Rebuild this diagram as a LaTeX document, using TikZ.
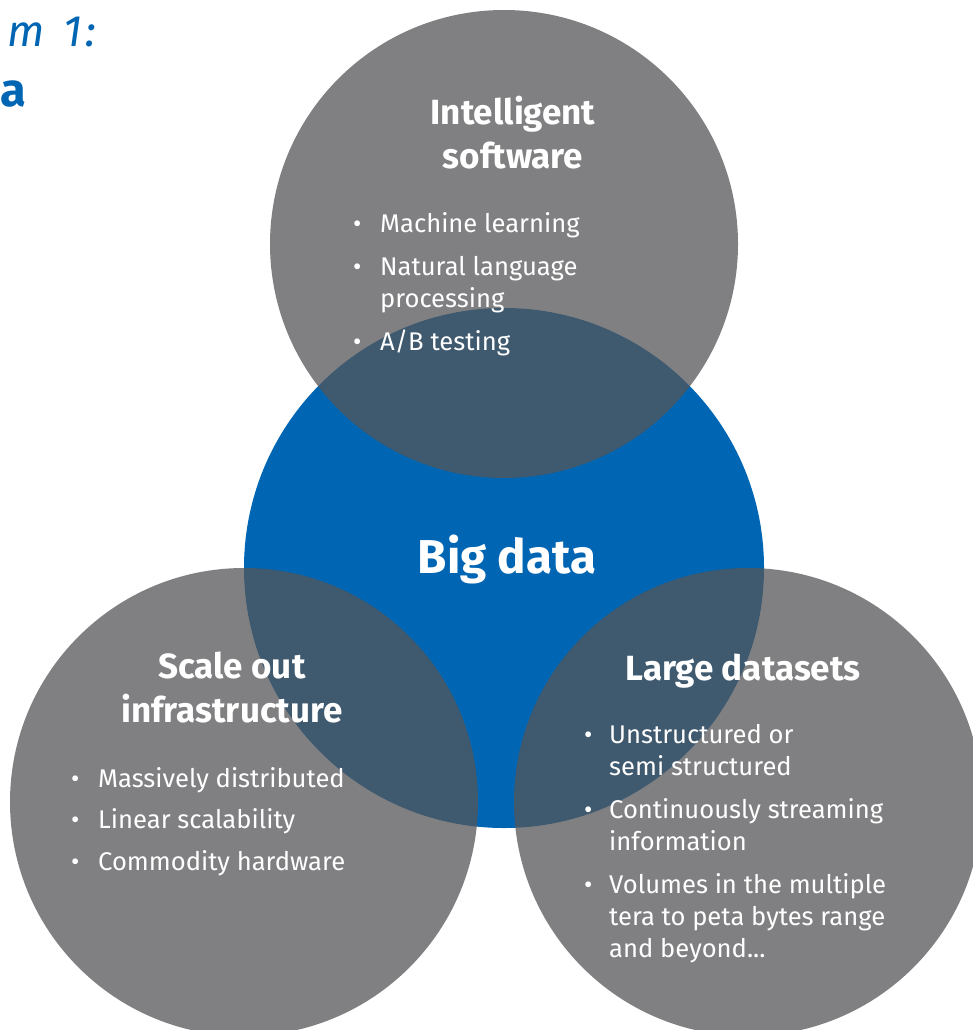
\documentclass[tikz,border=0pt]{standalone}
\usepackage{fontspec}
\setmainfont{Fira Sans}
\usetikzlibrary{positioning}

\definecolor{bigblue}{RGB}{0,102,179}
\definecolor{ringgrey}{RGB}{85,85,88}

\begin{document}
\begin{tikzpicture}[
      x=1pt, y=-1pt,
      core/.style={circle, fill=bigblue, minimum size=520pt, inner sep=0pt},
      ring/.style={circle, fill=ringgrey, fill opacity=0.745, minimum size=468pt, inner sep=0pt},
      heading/.style={text=white, align=center, inner sep=0pt, anchor=base,
                      font=\fontsize{35}{44}\selectfont\bfseries},
      items/.style={text=white, inner sep=0pt, anchor=base west,
                    font=\fontsize{25.6}{32}\selectfont},
      title/.style={text=bigblue, inner sep=0pt, anchor=base east}
    ]
    \useasboundingbox (0,0) rectangle (972,1030);

    % circles
    \node[core] (bigdata) at (504,568) {};
    \node[ring] (software) at (504,244) {};
    \node[ring] (infra) at (244,802) {};
    \node[ring] (datasets) at (748,802) {};

    % cut title
    \node[title, font=\fontsize{44}{46}\selectfont\itshape\addfontfeature{LetterSpace=6}] (capline) at (96,47) {m\hspace{5pt} 1:};
    \node[title, font=\fontsize{47}{50}\selectfont\bfseries] (capname) at (26,107) {a};

    % headings (base = last line)
    \node[heading] (softhead) at (513,168) {Intelligent\\software};
    \node[heading] (infrahead) at (232,722) {Scale out\\infrastructure};
    \node[heading] (datahead) at (743,680) {Large datasets};
    \node[heading, font=\fontsize{47.5}{50}\selectfont\bfseries] (corehead) at (507,573) {Big data};

    % bullet lists
    \node[items] (softlist) at (353,232) {\begin{tabular}[t]{@{}p{27pt}@{}l@{}}
        \textbullet & Machine learning\\[11pt]
        \textbullet & Natural language\\
                    & processing\\[11pt]
        \textbullet & A/B testing
      \end{tabular}};
    \node[items] (infralist) at (71,787) {\begin{tabular}[t]{@{}p{27pt}@{}l@{}}
        \textbullet & Massively distributed\\[9.5pt]
        \textbullet & Linear scalability\\[9.5pt]
        \textbullet & Commodity hardware
      \end{tabular}};
    \node[items] (datalist) at (584,743) {\begin{tabular}[t]{@{}p{25pt}@{}l@{}}
        \textbullet & Unstructured or\\
                    & semi structured\\[11pt]
        \textbullet & Continuously streaming\\
                    & information\\[11pt]
        \textbullet & Volumes in the multiple\\
                    & tera to peta bytes range\\
                    & and beyond...
      \end{tabular}};
    \end{tikzpicture}
\end{document}
